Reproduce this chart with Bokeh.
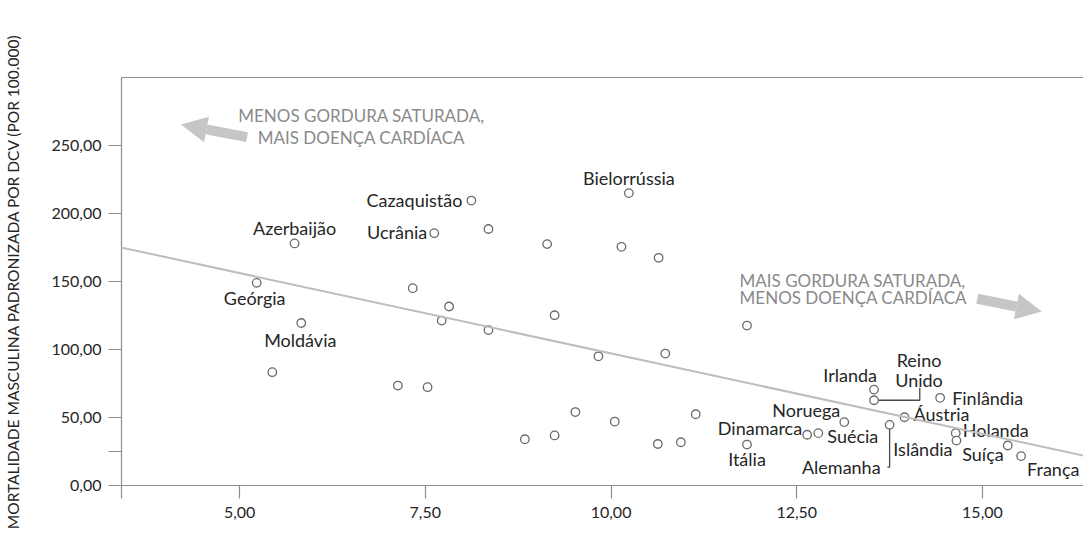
from bokeh.plotting import figure
from bokeh.models import (ColumnDataSource, Range1d, FixedTicker, LinearAxis,
                          Slope, Arrow, NormalHead)
from bokeh.core.properties import value, field
from bokeh.embed import file_html
from bokeh.resources import INLINE

# ---------------- data ----------------
LABELED_COUNTRIES = ["Bielorrússia", "Cazaquistão", "Ucrânia", "Azerbaijão", "Geórgia",
                     "Moldávia", "Irlanda", "Reino\nUnido", "Finlândia", "Áustria",
                     "Noruega", "Dinamarca", "Suécia", "Alemanha", "Holanda",
                     "Islândia", "Suíça", "França", "Itália"]
LABELED_FAT = [10.24, 8.12, 7.62, 5.74, 5.23,
               5.83, 13.54, 13.54, 14.43, 13.95,
               13.14, 12.64, 12.79, 13.75, 14.64,
               14.65, 15.34, 15.52, 11.83]
LABELED_MORT = [215.0, 209.5, 185.5, 178.0, 149.0,
                119.5, 70.5, 62.7, 64.5, 50.2,
                46.6, 37.3, 38.5, 44.6, 38.5,
                33.0, 29.4, 21.6, 30.1]

OTHER_FAT = [8.35, 9.14, 10.14, 10.64, 7.33, 7.82, 7.72, 8.35, 9.24, 11.83,
             9.83, 10.73, 5.44, 7.13, 7.53, 9.52, 10.05, 11.14, 8.84, 9.24,
             10.63, 10.94]
OTHER_MORT = [188.6, 177.5, 175.5, 167.4, 145.1, 131.6, 121.3, 114.3, 125.2, 117.6,
              95.0, 97.0, 83.3, 73.5, 72.3, 54.0, 47.0, 52.4, 34.0, 36.8,
              30.5, 31.8]

X_TICKS = [5.0, 7.5, 10.0, 12.5, 15.0]
X_TICK_LABELS = ["5,00", "7,50", "10,00", "12,50", "15,00"]
Y_TICKS = [0, 25, 50, 100, 150, 200, 250]
Y_TICK_LABELS = ["0,00", "", "50,00", "100,00", "150,00", "200,00", "250,00"]
X_RANGE = (3.41, 16.36)
Y_RANGE = (0, 300)

FIT_INTERCEPT = 215.3
FIT_SLOPE = -11.82

Y_TITLE = "MORTALIDADE MASCULINA PADRONIZADA POR DCV (POR 100.000)"

CAPTION_LINES = ["MENOS GORDURA SATURADA,", "MAIS DOENÇA CARDÍACA",
                 "MAIS GORDURA SATURADA,", "MENOS DOENÇA CARDÍACA"]

# ---------------- layout / styling (annotation positions) ----------------
CAPTION_X = [6.64, 6.64, 11.73, 11.73]
CAPTION_Y = [272.1, 255.9, 150.7, 138.2]
CAPTION_ALIGN = ["center", "center", "left", "left"]

ARROWS = [((5.10, 256.1), (4.21, 265.4)), ((14.93, 137.3), (15.80, 127.9))]

# label style: (align, dx px, dy px [screen, +down])
LABEL_STYLE = {
    "Bielorrússia": ("center", 0, -15),
    "Cazaquistão": ("right", -9, -1),
    "Ucrânia": ("right", -7, -1),
    "Azerbaijão": ("center", 0, -15),
    "Geórgia": ("center", -2, 15),
    "Moldávia": ("center", -1, 17),
    "Irlanda": ("right", 3, -15),
    "Reino\nUnido": ("center", 45, -30),
    "Finlândia": ("left", 12, 0),
    "Áustria": ("left", 9, -3),
    "Noruega": ("right", -4, -12),
    "Dinamarca": ("right", -5, -7),
    "Suécia": ("left", 9, 3),
    "Alemanha": ("right", -9, 42),
    "Holanda": ("left", 7, -3),
    "Islândia": ("right", -4, 8),
    "Suíça": ("right", -4, 8),
    "França": ("left", 6, 13),
    "Itália": ("center", 0, 14),
}

# connector polylines (data coords)
CONNECTORS = [
    ([13.54, 14.156, 14.156], [62.7, 62.7, 71.8]),      # Reino Unido
    ([13.75, 13.75, 13.72], [44.6, 13.5, 13.5]),        # Alemanha
]

FONT = "Lato"
AXIS_COLOR = "#8e8e8e"
TEXT_COLOR = "#262626"
POINT_COLOR = "#6a6a6a"
FIT_COLOR = "#bdbdbd"
CAPTION_COLOR = "#8a8a8a"
ARROW_COLOR = "#c6c6c6"

p = figure(width=1083, height=541, output_backend="svg", toolbar_location=None,
           x_range=Range1d(*X_RANGE), y_range=Range1d(*Y_RANGE),
           min_border_left=121, min_border_right=0, min_border_top=77,
           min_border_bottom=56, x_axis_type=None, y_axis_type=None)
p.outline_line_color = None
p.grid.visible = False
p.background_fill_color = "white"
p.border_fill_color = "white"


def style_axis(ax):
    ax.axis_line_color = AXIS_COLOR
    ax.axis_line_width = 1.2
    ax.major_tick_line_color = AXIS_COLOR
    ax.major_tick_line_width = 1.2
    ax.major_tick_in = 0
    ax.major_tick_out = 13
    ax.minor_tick_line_color = None
    ax.major_label_text_font = FONT
    ax.major_label_text_font_size = "16px"
    ax.major_label_text_color = TEXT_COLOR


xaxis = LinearAxis(ticker=FixedTicker(ticks=[X_RANGE[0]] + X_TICKS))
xaxis.major_label_overrides = {X_RANGE[0]: ""}
xaxis.major_label_overrides.update({t: l for t, l in zip(X_TICKS, X_TICK_LABELS)})
style_axis(xaxis)
xaxis.major_label_standoff = 8
p.add_layout(xaxis, "below")

yaxis = LinearAxis(ticker=FixedTicker(ticks=Y_TICKS), axis_label=Y_TITLE)
yaxis.major_label_overrides = {t: l for t, l in zip(Y_TICKS, Y_TICK_LABELS)}
style_axis(yaxis)
yaxis.major_label_standoff = 7
yaxis.axis_label_text_font = FONT
yaxis.axis_label_text_font_size = "15.5px"
yaxis.axis_label_text_font_style = "normal"
yaxis.axis_label_text_color = TEXT_COLOR
yaxis.axis_label_standoff = 26
p.add_layout(yaxis, "left")

top = LinearAxis(ticker=FixedTicker(ticks=[]))
top.axis_line_color = AXIS_COLOR
top.axis_line_width = 1.2
top.major_tick_line_color = None
top.minor_tick_line_color = None
top.major_label_text_font_size = "0px"
p.add_layout(top, "above")

# regression line
p.add_layout(Slope(gradient=FIT_SLOPE, y_intercept=FIT_INTERCEPT,
                   line_color=FIT_COLOR, line_width=2))

# connectors
for xs, ys in CONNECTORS:
    p.line(xs, ys, line_color="#4a4a4a", line_width=1.3)

# points
p.scatter(OTHER_FAT, OTHER_MORT, size=8.5, marker="circle", fill_color="white",
          line_color=POINT_COLOR, line_width=1.3)
p.scatter(LABELED_FAT, LABELED_MORT, size=8.5, marker="circle", fill_color="white",
          line_color=POINT_COLOR, line_width=1.3)

# labels
lab = ColumnDataSource(dict(
    x=LABELED_FAT, y=LABELED_MORT, name=LABELED_COUNTRIES,
    align=[LABEL_STYLE[n][0] for n in LABELED_COUNTRIES],
    dx=[LABEL_STYLE[n][1] for n in LABELED_COUNTRIES],
    dy=[LABEL_STYLE[n][2] for n in LABELED_COUNTRIES],
))
p.text(x="x", y="y", text="name", source=lab, x_offset="dx", y_offset="dy",
       text_align=field("align"), text_baseline="middle",
       text_font=value(FONT), text_font_size="18px", text_color=TEXT_COLOR,
       text_line_height=0.92)

# captions
cap = ColumnDataSource(dict(x=CAPTION_X, y=CAPTION_Y, t=CAPTION_LINES, align=CAPTION_ALIGN))
p.text(x="x", y="y", text="t", source=cap, text_align=field("align"),
       text_baseline="middle", text_font=value(FONT), text_font_size="17px",
       text_color=CAPTION_COLOR)

# arrows
for (x0, y0), (x1, y1) in ARROWS:
    p.add_layout(Arrow(end=NormalHead(size=26, fill_color=ARROW_COLOR, line_color=None),
                       x_start=x0, y_start=y0, x_end=x1, y_end=y1,
                       line_color=ARROW_COLOR, line_width=10))

open("out.html", "w").write(file_html(p, INLINE))
